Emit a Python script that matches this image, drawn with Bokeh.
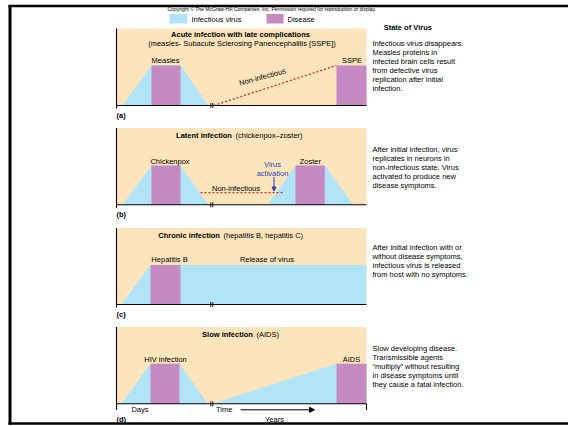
from bokeh.plotting import figure
from bokeh.models import Range1d, Arrow, NormalHead
from bokeh.core.properties import value
from bokeh.embed import file_html
from bokeh.resources import INLINE

# ---------------- data ----------------
legend_labels = ["Infectious virus", "Disease"]
copyright_text = "Copyright \u00a9 The McGraw-Hill Companies, Inc. Permission required for reproduction or display."
column_title = "State of Virus"
panel_ids = ["a", "b", "c", "d"]
panel_titles_bold = ["Acute infection with late complications", "Latent infection",
                     "Chronic infection", "Slow infection"]
panel_titles_normal = ["(measles- Subacute Sclerosing Panencephalitis [SSPE])",
                       "(chickenpox\u2013zoster)", "(hepatitis B, hepatitis C)", "(AIDS)"]
state_notes = [
    ["Infectious virus disappears.", "Measles proteins in", "infected brain cells result",
     "from defective virus", "replication after initial", "infection."],
    ["After initial infection, virus", "replicates in neurons in",
     "non-infectious state. Virus", "activated to produce new", "disease symptoms."],
    ["After initial infection with or", "without disease symptoms,",
     "infectious virus is released", "from host with no symptoms."],
    ["Slow developing disease.", "Transmissible agents",
     "\u201cmultiply\u201d without resulting", "in disease symptoms until",
     "they cause a fatal infection."],
]

# time on a 0-100 panel scale, level 0 (none) .. 1 (peak)
acute_virus_t = [2.4, 14.0, 25.6, 36.8]
acute_virus_lvl = [0, 1, 1, 0]
acute_disease_start = [14.0, 88.0]
acute_disease_end = [25.6, 100.0]
acute_disease_names = ["Measles", "SSPE"]
acute_noninf_t = [38.9, 88.0]
acute_noninf_lvl = [0.0, 1.0]

latent_virus1_t = [2.4, 14.0, 25.6, 36.8]
latent_virus1_lvl = [0, 1, 1, 0]
latent_virus2_t = [60.4, 71.6, 83.3, 94.8]
latent_virus2_lvl = [0, 1, 1, 0]
latent_disease_start = [14.0, 71.6]
latent_disease_end = [25.6, 83.3]
latent_disease_names = ["Chickenpox", "Zoster"]
latent_noninf_t = [33.6, 67.2]
latent_noninf_lvl = [0.31, 0.31]

chronic_virus_t = [1.9, 13.6, 100.0]
chronic_virus_lvl = [0, 1, 1]
chronic_disease_start = [13.6]
chronic_disease_end = [25.6]
chronic_disease_names = ["Hepatitis B"]

slow_virus1_t = [1.9, 13.6, 25.2, 36.5]
slow_virus1_lvl = [0, 1, 1, 0]
slow_virus2_t = [38.4, 88.0, 100.0]
slow_virus2_lvl = [0, 1, 1]
slow_disease_start = [13.6, 88.0]
slow_disease_end = [25.2, 100.0]
slow_disease_names = ["HIV infection", "AIDS"]

# ---------------- style ----------------
BEIGE = "#FCE4BD"
BLUE = "#B2E4F8"
PURPLE = "#C48AC1"
RED = "#E3241E"
TXTBLUE = "#2446B8"
FONT = value("Liberation Sans")
FS = "7.5px"

W, H = 568, 426


def PY(y):
    return y


X0, X1 = 116, 366
TS = (X1 - X0) / 100.0

p = figure(width=W, height=H, x_range=Range1d(0, W), y_range=Range1d(H, 0),
           output_backend="svg", toolbar_location=None, min_border=0,
           x_axis_location=None, y_axis_location=None, outline_line_color=None,
           background_fill_color="white", border_fill_color="white")
p.grid.visible = False
p.extra_x_ranges = {"t": Range1d((0 - X0) / TS, (W - X0) / TS)}

tops = [28, 127.5, 227.5, 326.5]
bases = [105, 204.3, 304, 403.3]
peaks = [65, 165, 264.5, 363.3]
for k, b0, pk0 in zip(panel_ids, bases, peaks):
    b, pk = PY(b0), PY(pk0)
    h = b - pk
    p.extra_y_ranges[k] = Range1d((b - H) / h, b / h)


def txt(x, y, s, size=FS, bold=False, align="left", color="black", angle=0.0):
    p.text(x=[x], y=[PY(y)], text=[s], text_font=FONT, text_font_size=size,
           text_font_style="bold" if bold else "normal", text_align=align,
           text_baseline="middle", text_color=color, angle=angle)


# copyright + legend
txt(167, 8.5, copyright_text, size="5px")

# border
p.segment(x0=[8], y0=[PY(5.5)], x1=[W], y1=[PY(5.5)], line_color="black", line_width=2.5)
p.segment(x0=[9.5], y0=[4.5], x1=[9.5], y1=[424], line_color="black", line_width=3)
p.segment(x0=[8], y0=[PY(423)], x1=[W], y1=[PY(423)], line_color="black", line_width=2.5)

p.quad(left=[169], right=[187], top=[PY(13.5)], bottom=[PY(23)], fill_color=BLUE, line_color=None)
txt(191, 18.5, legend_labels[0])
p.quad(left=[266], right=[283], top=[PY(13.5)], bottom=[PY(23)], fill_color=PURPLE, line_color=None)
txt(287, 18.5, legend_labels[1])

# panel backgrounds
for t0, b0 in zip(tops, bases):
    p.quad(left=[X0], right=[X1], top=[PY(t0)], bottom=[PY(b0)], fill_color=BEIGE, line_color=None)


def virus(ts, lv, k, close=False):
    xs, ys = list(ts), list(lv)
    if close:
        xs.append(ts[-1])
        ys.append(0)
    p.patch(x=xs, y=ys, x_range_name="t", y_range_name=k, fill_color=BLUE, line_color=None)


def disease(st, en, k):
    p.quad(left=st, right=en, bottom=[0] * len(st), top=[1] * len(st), x_range_name="t",
           y_range_name=k, fill_color=PURPLE, line_color=None)


virus(acute_virus_t, acute_virus_lvl, "a")
disease(acute_disease_start, acute_disease_end, "a")
p.line(x=acute_noninf_t, y=acute_noninf_lvl, x_range_name="t", y_range_name="a",
       line_color=RED, line_width=1.3, line_dash="2 2")

virus(latent_virus1_t, latent_virus1_lvl, "b")
virus(latent_virus2_t, latent_virus2_lvl, "b")
disease(latent_disease_start, latent_disease_end, "b")
p.line(x=latent_noninf_t, y=latent_noninf_lvl, x_range_name="t", y_range_name="b",
       line_color=RED, line_width=1.3, line_dash="2 2")

virus(chronic_virus_t, chronic_virus_lvl, "c", close=True)
disease(chronic_disease_start, chronic_disease_end, "c")

virus(slow_virus1_t, slow_virus1_lvl, "d")
virus(slow_virus2_t, slow_virus2_lvl, "d", close=True)
disease(slow_disease_start, slow_disease_end, "d")

# axes and breaks
for i, (t0, b0) in enumerate(zip(tops, bases)):
    bot_ext = 409.5 if i == 3 else b0 + 3
    p.segment(x0=[X0], y0=[PY(t0)], x1=[X0], y1=[PY(bot_ext)], line_color="black", line_width=1.1)
    p.segment(x0=[X0], y0=[PY(b0)], x1=[X1], y1=[PY(b0)], line_color="black", line_width=1.1)
    p.segment(x0=[210.3, 212.3], y0=[PY(b0 - 2.5)] * 2, x1=[210.3, 212.3], y1=[PY(b0 + 2.5)] * 2,
              line_color="black", line_width=0.9)
p.segment(x0=[X1], y0=[PY(bases[3])], x1=[X1], y1=[PY(409.5)], line_color="black", line_width=1.1)

# titles
txt(240, 34, panel_titles_bold[0], bold=True, align="center")
txt(241.5, 43, panel_titles_normal[0], align="center")
title_split = [(None, 134.5), (233.5, 134.5), (221.5, 234.5), (254.5, 333.5)]
for i in (1, 2, 3):
    xs, ys = title_split[i]
    txt(xs, ys, panel_titles_bold[i] + " ", bold=True, align="right")
    txt(xs + 1.5, ys, panel_titles_normal[i], align="left")

# disease labels
txt(165, 60, acute_disease_names[0], align="center")
txt(351.5, 60, acute_disease_names[1], align="center")
txt(169.5, 160.5, latent_disease_names[0], align="center")
txt(309.8, 160.5, latent_disease_names[1], align="center")
txt(169, 259, chronic_disease_names[0], align="center")
txt(266.5, 259, "Release of virus", align="center")
txt(165, 359, slow_disease_names[0], align="center")
txt(351, 359, slow_disease_names[1], align="center")

# non-infectious annotations
txt(262, 76.5, "Non-infectious", align="center", angle=0.27)
txt(235.5, 187.5, "Non-infectious", align="center")
txt(272, 164.3, "Virus", align="center", color=TXTBLUE)
txt(272, 173.3, "activation", align="center", color=TXTBLUE)
p.add_layout(Arrow(end=NormalHead(size=4, fill_color=TXTBLUE, line_color=TXTBLUE),
                   x_start=273.5, y_start=PY(176.5), x_end=273.5, y_end=PY(190.5),
                   line_color=TXTBLUE, line_width=1.1))

# time axis labels
txt(139.5, 409.3, "Days", align="center")
txt(223.7, 409.3, "Time", align="center")
p.add_layout(Arrow(end=NormalHead(size=5, fill_color="black", line_color="black"),
                   x_start=240, y_start=PY(409.3), x_end=314, y_end=PY(409.3),
                   line_color="black", line_width=1))
txt(274, 419, "Years", align="center")

# panel letters
for k, y in zip(panel_ids, [115, 214.3, 314.3, 419]):
    txt(116, y, "(" + k + ")", bold=True)

# state-of-virus column
txt(407.3, 26.7, column_title, bold=True, align="center")
for lines, y0 in zip(state_notes, [42.7, 149, 246.7, 348.3]):
    for j, s in enumerate(lines):
        txt(372, y0 + 9.0 * j, s)

open("out.html", "w").write(file_html(p, INLINE))
